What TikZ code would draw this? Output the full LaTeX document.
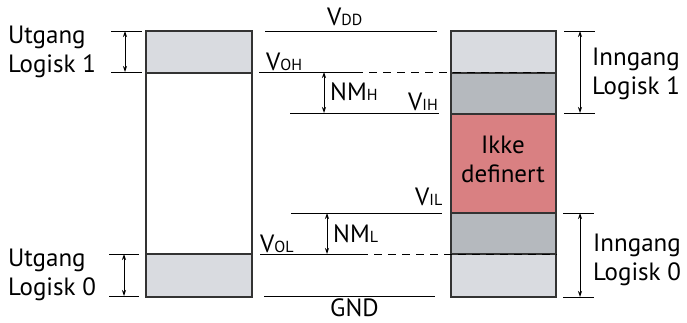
\documentclass[tikz,border=0pt]{standalone}
\usepackage{fontspec}
\setmainfont{PT Sans}
\usetikzlibrary{arrows.meta,positioning,calc}
\definecolor{lysgraa}{RGB}{217,219,224}
\definecolor{morkgraa}{RGB}{181,185,190}
\definecolor{udef}{RGB}{217,128,130}
\newcommand{\indeks}[1]{{\fontsize{16}{16}\selectfont #1}}
\tikzset{
  felt/.style={draw=black!80,line width=1.2pt},
  niva/.style={line width=0.8pt},
  stipl/.style={niva,dash pattern=on 8pt off 6pt},
  maal/.style={{Stealth[length=6pt,width=4pt]}-{Stealth[length=6pt,width=4pt]},line width=0.8pt},
  tekst/.style={font=\fontsize{25}{29}\selectfont,align=left,inner sep=0pt},
  spn/.style={font=\fontsize{25}{29}\selectfont,inner sep=0pt,anchor=base west},
}

\begin{document}
\begin{tikzpicture}[x=1pt,y=-1pt]
  \useasboundingbox (0,0) rectangle (687,322);
  % utgang
  \fill[lysgraa] (146,31) rectangle (252,73);
  \fill[lysgraa] (146,254) rectangle (252,297);
  \draw[felt] (146,73) -- (252,73) (146,254) -- (252,254);
  \draw[felt] (146,31) rectangle (252,297);
  % inngang
  \fill[lysgraa] (451,31) rectangle (556,73);
  \fill[morkgraa] (451,73) rectangle (556,114);
  \fill[udef] (451,114) rectangle (556,213);
  \fill[morkgraa] (451,213) rectangle (556,254);
  \fill[lysgraa] (451,254) rectangle (556,297);
  \draw[felt] (451,73) -- (556,73) (451,114) -- (556,114) (451,213) -- (556,213) (451,254) -- (556,254);
  \draw[felt] (451,31) rectangle (556,297);
  % nivaer
  \foreach \n/\y/\xa/\xb in {dd/31/265/437, ih/113/290/439, il/213/291/442,
      gnd/296/264/435, oh/72/259/355, ol/254/260/360}
    {\coordinate (\n-a) at (\xa,\y); \coordinate (\n-b) at (\xb,\y);}
  \coordinate (oh-c) at (550,72);
  \coordinate (ol-c) at (557,254);
  \draw[niva] (dd-a) -- (dd-b) (ih-a) -- (ih-b) (il-a) -- (il-b)
    (gnd-a) -- (gnd-b) (oh-a) -- (oh-b) (ol-a) -- (ol-b);
  \draw[stipl] (oh-b) -- (oh-c) (ol-b) -- (ol-c);
  % omraader
  \foreach \n/\x/\ya/\yb/\xl/\xr in {u1/125/31/72/111/142, u0/124/254/296/109/139,
      i1/580/31/113/564/595, i0/580/213/297/563/594}
    {\coordinate (\n-o) at (\x,\ya); \coordinate (\n-n) at (\x,\yb);
     \draw[niva] (\xl,\ya) -- (\xr,\ya) (\xl,\yb) -- (\xr,\yb);
     \draw[maal] (\n-o) -- (\n-n);}
  \coordinate (nmh-o) at (324,72); \coordinate (nmh-n) at (324,113);
  \coordinate (nml-o) at (327,213); \coordinate (nml-n) at (327,254);
  \draw[maal] (nmh-o) -- (nmh-n);
  \draw[maal] (nml-o) -- (nml-n);
  % tekster (base = siste linje)
  \node[tekst,anchor=base west] (utg1) at (8,72) {Utgang\\Logisk 1};
  \node[tekst,anchor=base west] (utg0) at (8,295) {Utgang\\Logisk 0};
  \node[tekst,anchor=base west] (inn1) at (592,94) {Inngang\\Logisk 1};
  \node[tekst,anchor=base west] (inn0) at (593,280) {Inngang\\Logisk 0};
  \node[tekst,align=center,anchor=base] (ikke) at (503,182) {Ikke\\definert};
  \node[spn] (vdd) at (327,25) {V\indeks{DD}};
  \node[spn] (voh) at (266,70) {V\indeks{OH}};
  \node[spn] (nmh) at (330,100) {NM\indeks{H}};
  \node[spn] (vih) at (408,110) {V\indeks{IH}};
  \node[spn] (vil) at (415,205) {V\indeks{IL}};
  \node[spn] (nml) at (333,242) {NM\indeks{L}};
  \node[spn] (vol) at (260,252) {V\indeks{OL}};
  \node[spn] (gnd) at (330,316) {GND};
\end{tikzpicture}
\end{document}
